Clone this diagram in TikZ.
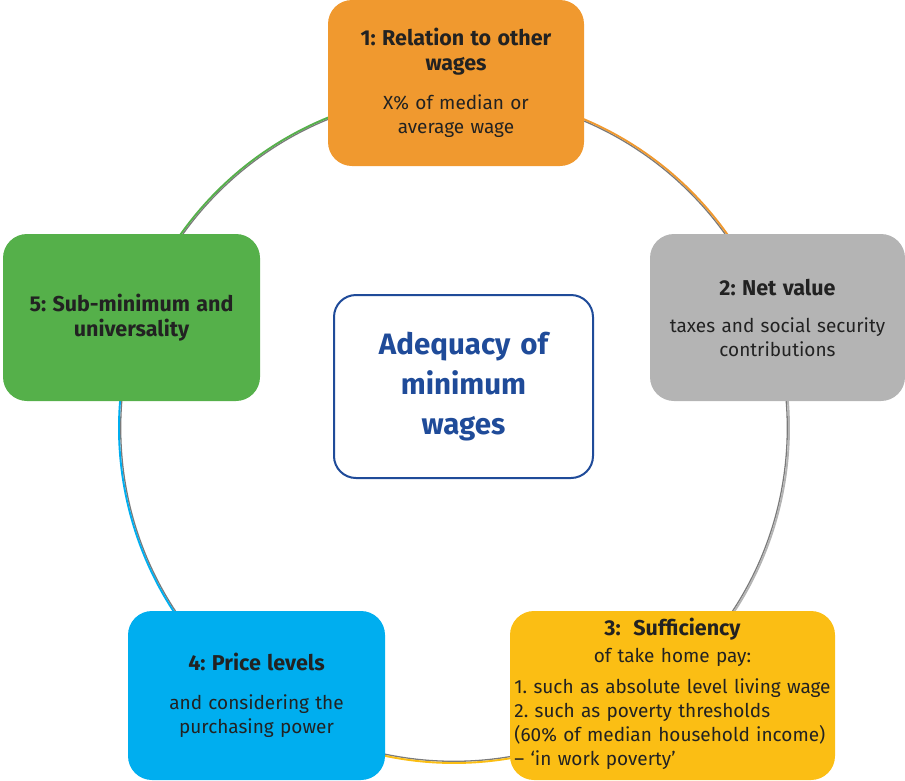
\documentclass[tikz,border=0pt]{standalone}
\usepackage{fontspec}
\setmainfont{Fira Sans}
\frenchspacing
\definecolor{cOrange}{HTML}{F0992F}
\definecolor{cGray}{HTML}{B4B4B4}
\definecolor{cYellow}{HTML}{FBBE14}
\definecolor{cBlue}{HTML}{00AEEF}
\definecolor{cGreen}{HTML}{55B04A}
\definecolor{cNavy}{HTML}{1F4B99}
\definecolor{cText}{HTML}{222222}
\definecolor{cShadow}{HTML}{7A7A7A}
\newcommand{\ttl}[1]{{\fontsize{21.5}{25}\selectfont\bfseries #1\par}}
\tikzset{
  mybox/.style={rounded corners=24pt, inner sep=0pt, align=center, text=cText,
    font=\fontsize{19}{24}\selectfont\frenchspacing},
  ring/.style={line width=1.9pt},
  shadowring/.style={line width=1.3pt, draw=cShadow}
}
\begin{document}
\begin{tikzpicture}[x=1pt,y=1pt]
\useasboundingbox (0,0) rectangle (905,-780);
\coordinate (c) at (454,-428);
% ring shadow
\draw[shadowring] (c) circle[radius=333.3];
% coloured ring segments
\draw[ring, cOrange] ([shift={(90:335)}]c) arc[start angle=90, end angle=19, radius=335];
\draw[ring, cGray]   ([shift={(19:335)}]c) arc[start angle=19, end angle=-51, radius=335];
\draw[ring, cYellow] ([shift={(-51:335)}]c) arc[start angle=-51, end angle=-127, radius=335];
\draw[ring, cBlue]   ([shift={(-127:335)}]c) arc[start angle=-127, end angle=-199, radius=335];
\draw[ring, cGreen]  ([shift={(161:335)}]c) arc[start angle=161, end angle=90, radius=335];

\node[mybox, fill=cOrange, minimum width=256pt, minimum height=166pt, text width=250pt] (b1) at (456,-83)
  {\ttl{1: Relation to other\\wages}\vspace{15pt}X\% of median or\\average wage};
\node[mybox, fill=cGray, minimum width=255pt, minimum height=167pt, text width=250pt] (b2) at (777.5,-317.5)
  {\ttl{2: Net value}\vspace{13pt}taxes and social security\\contributions};
\node[mybox, fill=cYellow, minimum width=325pt, minimum height=169pt, text width=325pt] (b3) at (672.5,-695.5)
  {\ttl{3:\ \ Sufficiency}\vspace{3pt}of take home pay:\par\vspace{9pt}%
   \begin{tabular}{@{}l@{}}1. such as absolute level living wage\\2. such as poverty thresholds\\(60\% of median household income)\\– ‘in work poverty’\end{tabular}};
\node[mybox, fill=cBlue, minimum width=257pt, minimum height=169pt, text width=250pt] (b4) at (256.5,-695.5)
  {\ttl{4: Price levels}\vspace{15pt}and considering the\\purchasing power};
\node[mybox, fill=cGreen, minimum width=257pt, minimum height=167pt, text width=250pt] (b5) at (131.5,-317.5)
  {\ttl{5: Sub-minimum and\\universality}};
\node[draw=cNavy, line width=2pt, fill=white, rounded corners=22pt, minimum width=259pt,
  minimum height=183pt, text width=250pt, align=center, text=cNavy,
  font=\fontsize{29.5}{40}\selectfont\bfseries] (ctr) at (463.5,-386.5)
  {Adequacy of\\minimum\\wages};
\end{tikzpicture}
\end{document}
